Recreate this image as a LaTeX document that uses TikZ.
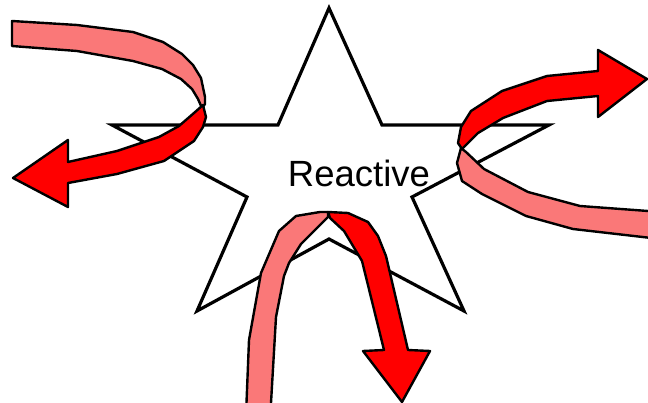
\documentclass[tikz,border=0pt]{standalone}
\usepackage{fontspec}
\setmainfont{Liberation Sans}
\begin{document}
\begin{tikzpicture}[x=1pt,y=-1pt,
  staroutline/.style={draw=black,line width=3.2pt,fill=white,line join=miter},
  frontband/.style={draw=black,line width=2.4pt,fill={rgb,255:red,255;green,0;blue,0},line join=round},
  backband/.style={draw=black,line width=2.4pt,fill={rgb,255:red,250;green,120;blue,120},line join=round}]
\useasboundingbox (0,0) rectangle (648,403);
\clip (0,0) rectangle (648,403);
% star
\draw[staroutline] (329,8) -- (382,125) -- (549,125) -- (412,197) -- (464,311) -- (329,239)
  -- (197,311) -- (247,197) -- (112,125) -- (278,125) -- cycle;
\node[anchor=base,inner sep=0pt,font=\fontsize{36.5}{40}\selectfont] (label) at (359,187) {Reactive};
% left ribbon
\draw[backband] (12,21) -- (77,25) -- (133,32) -- (163,42) -- (182,54) -- (193,65) -- (201,78)
  -- (205,97) -- (205,104) -- (202,108) -- (198,99) -- (192,89) -- (181,79) -- (162,69)
  -- (133,61) -- (77,51) -- (12,46) -- cycle;
\draw[frontband] (203,105) -- (206,117) -- (203,127) -- (194,141) -- (164,161) -- (117,174)
  -- (68,183) -- (68,207) -- (13,178) -- (68,140) -- (68,162) -- (117,151) -- (159,137)
  -- (179,126) -- (194,113) -- cycle;
% right ribbon
\draw[backband] (461,148) -- (457,163) -- (462,181) -- (482,194) -- (526,216) -- (573,229)
  -- (660,239) -- (660,211) -- (648,211) -- (580,206) -- (528,192) -- (484,169) -- (466,152) -- cycle;
\draw[frontband] (462,149) -- (458,143) -- (461,127) -- (471,111) -- (502,91) -- (547,76)
  -- (598,71) -- (598,50) -- (647,79) -- (598,117) -- (598,96) -- (547,101) -- (503,118)
  -- (478,133) -- cycle;
% bottom ribbon
\draw[backband] (328,212) -- (320,212) -- (296,216) -- (279,231) -- (261,273) -- (249,340)
  -- (246,415) -- (270,415) -- (271,403) -- (276,317) -- (284,276) -- (289,263) -- (301,244)
  -- (328,217) -- cycle;
\draw[frontband] (328,212) -- (348,213) -- (368,222) -- (378,236) -- (386,256) -- (408,350)
  -- (430,351) -- (402,402) -- (363,351) -- (384,350) -- (362,261) -- (344,231) -- (330,218) -- cycle;
\end{tikzpicture}
\end{document}
